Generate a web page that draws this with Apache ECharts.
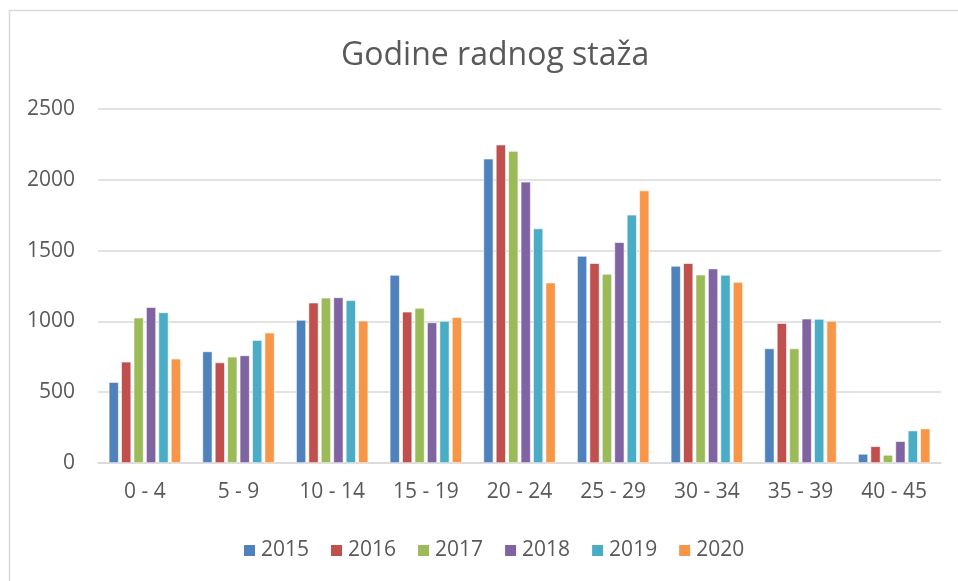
<!DOCTYPE html>
<html>
<head>
<meta charset="utf-8">
<script src="https://cdn.jsdelivr.net/npm/echarts@6/dist/echarts.min.js"></script>
<style>
  html, body { margin: 0; padding: 0; background: #fff; }
  #chart { width: 958px; height: 581px; }
</style>
</head>
<body>
<div id="chart"></div>
<script>
// Categories and yearly values
const categories = ['0 - 4', '5 - 9', '10 - 14', '15 - 19', '20 - 24', '25 - 29', '30 - 34', '35 - 39', '40 - 45'];
const years = ['2015', '2016', '2017', '2018', '2019', '2020'];
const values2015 = [571, 788, 1010, 1328, 2149, 1462, 1392, 809, 64];
const values2016 = [715, 710, 1132, 1068, 2248, 1411, 1411, 988, 118];
const values2017 = [1026, 750, 1167, 1095, 2203, 1335, 1330, 809, 57];
const values2018 = [1101, 760, 1170, 993, 1986, 1559, 1373, 1019, 154];
const values2019 = [1064, 868, 1149, 1003, 1656, 1753, 1328, 1017, 229];
const values2020 = [736, 920, 1005, 1029, 1274, 1924, 1278, 1003, 243];

const seriesValues = [values2015, values2016, values2017, values2018, values2019, values2020];
const colors = ['#4F81BD', '#C0504D', '#9BBB59', '#8064A2', '#4BACC6', '#F79646'];

const chart = echarts.init(document.querySelector('#chart'));

const option = {
    animation: false,
    color: colors,
    textStyle: { fontFamily: 'Open Sans' },
    // the original chart area is a bit wider than the picture, so title and legend sit right of centre
    title: {
        text: 'Godine radnog staža',
        left: 336,
        top: 35,
        textStyle: { fontSize: 32, fontWeight: 'normal', color: '#595959', fontFamily: 'Open Sans' }
    },
    // chart area border (only top and left edges are visible in the picture)
    graphic: [{
        type: 'rect',
        shape: { x: 9.5, y: 10.5, width: 980, height: 620 },
        style: { fill: 'none', stroke: '#D9D9D9', lineWidth: 1.5 },
        silent: true,
        z: -1
    }],
    legend: {
        data: years,
        top: 535,
        left: 237,
        icon: 'rect',
        itemWidth: 13,
        itemHeight: 13,
        itemGap: 20,
        textStyle: { fontSize: 21, color: '#595959' }
    },
    grid: {
        left: 98,
        right: 17,
        top: 109,
        bottom: 118
    },
    xAxis: {
        type: 'category',
        data: categories,
        axisLine: { lineStyle: { color: '#D9D9D9', width: 1.5 } },
        axisTick: { show: false },
        axisLabel: { fontSize: 21, color: '#595959', margin: 19 }
    },
    yAxis: {
        type: 'value',
        min: 0,
        max: 2500,
        interval: 500,
        axisLine: { show: false },
        axisTick: { show: false },
        splitLine: { lineStyle: { color: '#D9D9D9', width: 1.5 } },
        axisLabel: { fontSize: 21, color: '#595959', margin: 23, formatter: (v) => String(v) }
    },
    series: years.map((year, i) => ({
        name: year,
        type: 'bar',
        data: seriesValues[i],
        barGap: '25%',
        barCategoryGap: '23%',
        itemStyle: { borderColor: '#fff', borderWidth: 0.6 }
    }))
};

chart.setOption(option);
</script>
</body>
</html>
